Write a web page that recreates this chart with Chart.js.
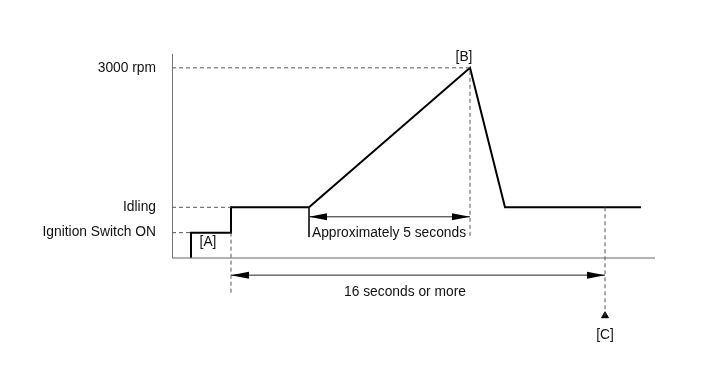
<!DOCTYPE html>
<html>
<head>
<meta charset="utf-8">
<script src="https://cdn.jsdelivr.net/npm/chart.js@4.4.0/dist/chart.umd.min.js"></script>
<style>
  body { margin: 0; background: #fff; }
  #wrap { width: 713px; height: 381px; }
</style>
</head>
<body>
<div id="wrap"><canvas id="rpmChart" width="713" height="381"></canvas></div>
<script>
//Engine speed trace (schematic time units, rpm)
const rpmTimes = [1.9, 1.9, 5.9, 5.9, 13.7, 29.8, 33.3, 46.9];
const rpmValues = [0, 400, 400, 800, 800, 3000, 800, 800];

//Levels shown on the left
const levelValues = [400, 800, 3000];
const levelLabels = ["Ignition Switch ON", "Idling", "3000 rpm"];

//Key moments on the time line
const tIgnition = 1.9;
const tIdle = 5.9;
const tRampStart = 13.7;
const tPeak = 29.8;
const tCheck = 43.3;
const tAxisEnd = 48.3;

//Dimension arrows and callouts
const arrow5Level = 650;
const arrow16Level = -270;
const peakGuideBottom = 330;
const idleGuideBottom = -550;
const checkGuideBottom = -950;
const yAxisTop = 3220;

const callouts = [
  { text: "[A]", x: 3.6, y: 250 },
  { text: "[B]", x: 29.2, y: 3170 },
  { text: "[C]", x: tCheck, y: -1220 },
  { text: "Approximately 5 seconds", x: 21.7, y: 395 },
  { text: "16 seconds or more", x: 23.3, y: -540 }
];

const pts = (xs, ys) => xs.map((x, i) => ({ x: x, y: ys[i] }));

function solid(data, width, color) {
  return { data: data, borderColor: color, borderWidth: width, pointRadius: 0, fill: false, tension: 0 };
}
function dashed(data) {
  return { data: data, borderColor: "#555", borderWidth: 1, borderDash: [4, 3], pointRadius: 0, fill: false, tension: 0 };
}

//Draws arrow heads and text labels at data positions
const drawExtras = {
  id: "drawExtras",
  afterDatasetsDraw(chart) {
    const ctx = chart.ctx;
    const xs = chart.scales.x;
    const ys = chart.scales.y;

    function head(xv, yv, dir) {
      const px = xs.getPixelForValue(xv);
      const py = ys.getPixelForValue(yv);
      ctx.beginPath();
      ctx.moveTo(px, py);
      ctx.lineTo(px - dir * 18, py - 3.5);
      ctx.lineTo(px - dir * 18, py + 3.5);
      ctx.closePath();
      ctx.fillStyle = "#000";
      ctx.fill();
    }
    ctx.save();
    head(tRampStart, arrow5Level, -1);
    head(tPeak, arrow5Level, 1);
    head(tIdle, arrow16Level, -1);
    head(tCheck, arrow16Level, 1);

    ctx.font = "13.8px 'Liberation Sans', Arial, sans-serif";
    ctx.fillStyle = "#111";
    ctx.textAlign = "center";
    ctx.textBaseline = "middle";
    callouts.forEach((c) => {
      ctx.fillText(c.text, xs.getPixelForValue(c.x), ys.getPixelForValue(c.y));
    });
    ctx.restore();
  }
};

new Chart(document.getElementById("rpmChart"), {
  type: "line",
  data: {
    datasets: [
      //axes
      solid(pts([0, 0], [yAxisTop, 0]), 1, "#666"),
      solid(pts([0, tAxisEnd], [0, 0]), 1, "#666"),
      //guides
      dashed(pts([0, tPeak, tPeak], [3000, 3000, peakGuideBottom])),
      dashed(pts([0, tIdle], [800, 800])),
      dashed(pts([0, tIgnition], [400, 400])),
      dashed(pts([tIdle, tIdle], [400, idleGuideBottom])),
      dashed(pts([tCheck, tCheck], [800, checkGuideBottom])),
      //dimension lines
      solid(pts([tRampStart, tRampStart], [800, peakGuideBottom]), 1, "#222"),
      solid(pts([tRampStart, tPeak], [arrow5Level, arrow5Level]), 1, "#222"),
      solid(pts([tIdle, tCheck], [arrow16Level, arrow16Level]), 1, "#222"),
      //marker for [C]
      {
        data: [{ x: tCheck, y: checkGuideBottom + 40 }],
        showLine: false,
        pointStyle: "triangle",
        pointRadius: 4,
        backgroundColor: "#000",
        borderColor: "#000",
        borderWidth: 1
      },
      //engine speed
      solid(pts(rpmTimes, rpmValues), 2, "#000")
    ]
  },
  options: {
    responsive: false,
    animation: false,
    layout: { padding: 0, autoPadding: false },
    plugins: { legend: { display: false }, tooltip: { enabled: false } },
    scales: {
      x: { type: "linear", min: 0, max: 54.1, display: false },
      y: {
        type: "linear",
        min: -1940,
        max: 4070,
        border: { display: false },
        grid: { display: false, drawTicks: false },
        afterBuildTicks: (s) => { s.ticks = levelValues.map((v) => ({ value: v })); },
        afterFit: (s) => { s.width = 172; s.paddingTop = 0; s.paddingBottom = 0; },
        ticks: {
          padding: 16,
          color: "#111",
          font: { family: "'Liberation Sans', Arial, sans-serif", size: 13.8 },
          callback: (v) => levelLabels[levelValues.indexOf(v)]
        }
      }
    }
  },
  plugins: [drawExtras]
});
</script>
</body>
</html>
